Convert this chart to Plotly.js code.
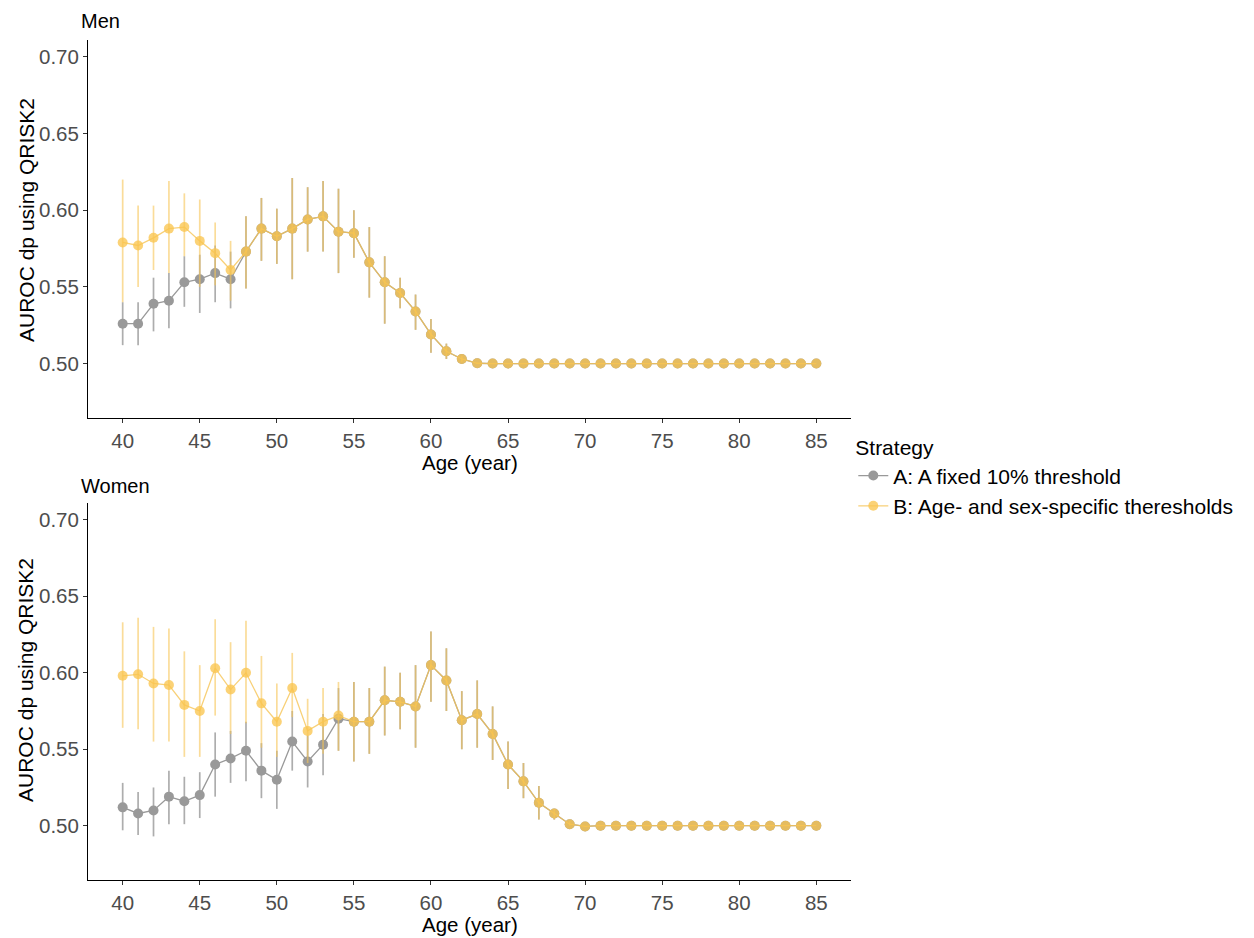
<!DOCTYPE html>
<html>
<head>
<meta charset="utf-8">
<script src="https://cdn.plot.ly/plotly-3.0.1.min.js"></script>
<style>body{margin:0;background:#fff;} #chart{width:1254px;height:938px;}</style>
</head>
<body>
<div id="chart"></div>
<script>
const ages = [40,41,42,43,44,45,46,47,48,49,50,51,52,53,54,55,56,57,58,59,60,61,62,63,64,65,66,67,68,69,70,71,72,73,74,75,76,77,78,79,80,81,82,83,84,85];
const xTicks = [40,45,50,55,60,65,70,75,80,85];
const yTicks = [0.50,0.55,0.60,0.65,0.70];
const seriesNames = ["A: A fixed 10% threshold", "B: Age- and sex-specific theresholds"];
const panelTitles = ["Men", "Women"];
const xTitle = "Age (year)";
const yTitle = "AUROC dp using QRISK2";
const legendTitle = "Strategy";

// Men, strategy A
const menA    = [0.526,0.526,0.539,0.541,0.553,0.555,0.559,0.555,0.573,0.588,0.583,0.588,0.594,0.596,0.586,0.585,0.566,0.553,0.546,0.534,0.519,0.508,0.503,0.5002,0.500,0.500,0.500,0.500,0.500,0.500,0.500,0.500,0.500,0.500,0.500,0.500,0.500,0.500,0.500,0.500,0.500,0.500,0.500,0.500,0.500,0.500];
const menA_lo = [0.512,0.512,0.521,0.523,0.537,0.533,0.540,0.536,0.549,0.567,0.565,0.555,0.573,0.573,0.559,0.569,0.543,0.526,0.536,0.522,0.507,0.503,0.501,0.4998,0.500,0.500,0.500,0.500,0.500,0.500,0.500,0.500,0.500,0.500,0.500,0.500,0.500,0.500,0.500,0.500,0.500,0.500,0.500,0.500,0.500,0.500];
const menA_hi = [0.540,0.540,0.556,0.559,0.570,0.571,0.577,0.573,0.596,0.608,0.601,0.621,0.615,0.619,0.614,0.600,0.589,0.570,0.556,0.545,0.529,0.513,0.505,0.5006,0.500,0.500,0.500,0.500,0.500,0.500,0.500,0.500,0.500,0.500,0.500,0.500,0.500,0.500,0.500,0.500,0.500,0.500,0.500,0.500,0.500,0.500];
// Men, strategy B
const menB    = [0.579,0.577,0.582,0.588,0.589,0.580,0.572,0.561,0.573,0.588,0.583,0.588,0.594,0.596,0.586,0.585,0.566,0.553,0.546,0.534,0.519,0.508,0.503,0.5002,0.500,0.500,0.500,0.500,0.500,0.500,0.500,0.500,0.500,0.500,0.500,0.500,0.500,0.500,0.500,0.500,0.500,0.500,0.500,0.500,0.500,0.500];
const menB_lo = [0.540,0.550,0.561,0.559,0.570,0.550,0.551,0.541,0.549,0.567,0.565,0.555,0.573,0.573,0.559,0.569,0.543,0.526,0.536,0.522,0.507,0.503,0.501,0.4998,0.500,0.500,0.500,0.500,0.500,0.500,0.500,0.500,0.500,0.500,0.500,0.500,0.500,0.500,0.500,0.500,0.500,0.500,0.500,0.500,0.500,0.500];
const menB_hi = [0.620,0.603,0.603,0.619,0.611,0.607,0.592,0.580,0.596,0.608,0.601,0.621,0.615,0.619,0.614,0.600,0.589,0.570,0.556,0.545,0.529,0.513,0.505,0.5006,0.500,0.500,0.500,0.500,0.500,0.500,0.500,0.500,0.500,0.500,0.500,0.500,0.500,0.500,0.500,0.500,0.500,0.500,0.500,0.500,0.500,0.500];
// Women, strategy A
const womenA    = [0.512,0.508,0.510,0.519,0.516,0.520,0.540,0.544,0.549,0.536,0.530,0.555,0.542,0.553,0.570,0.568,0.568,0.582,0.581,0.578,0.605,0.595,0.569,0.573,0.560,0.540,0.529,0.515,0.508,0.501,0.4995,0.500,0.500,0.500,0.500,0.500,0.500,0.500,0.500,0.500,0.500,0.500,0.500,0.500,0.500,0.500];
const womenA_lo = [0.497,0.494,0.493,0.501,0.501,0.505,0.519,0.528,0.529,0.518,0.511,0.536,0.525,0.533,0.549,0.542,0.547,0.559,0.563,0.551,0.581,0.575,0.550,0.551,0.543,0.524,0.518,0.504,0.504,0.500,0.4993,0.500,0.500,0.500,0.500,0.500,0.500,0.500,0.500,0.500,0.500,0.500,0.500,0.500,0.500,0.500];
const womenA_hi = [0.528,0.522,0.525,0.536,0.532,0.535,0.561,0.562,0.568,0.554,0.549,0.575,0.559,0.573,0.590,0.594,0.590,0.604,0.600,0.605,0.627,0.616,0.588,0.595,0.578,0.555,0.541,0.526,0.511,0.503,0.4997,0.500,0.500,0.500,0.500,0.500,0.500,0.500,0.500,0.500,0.500,0.500,0.500,0.500,0.500,0.500];
// Women, strategy B
const womenB    = [0.598,0.599,0.593,0.592,0.579,0.575,0.603,0.589,0.600,0.580,0.568,0.590,0.562,0.568,0.572,0.568,0.568,0.582,0.581,0.578,0.605,0.595,0.569,0.573,0.560,0.540,0.529,0.515,0.508,0.501,0.4995,0.500,0.500,0.500,0.500,0.500,0.500,0.500,0.500,0.500,0.500,0.500,0.500,0.500,0.500,0.500];
const womenB_lo = [0.564,0.563,0.555,0.555,0.545,0.545,0.572,0.560,0.567,0.551,0.545,0.571,0.541,0.547,0.549,0.542,0.547,0.559,0.563,0.551,0.581,0.575,0.550,0.551,0.543,0.524,0.518,0.504,0.504,0.500,0.4993,0.500,0.500,0.500,0.500,0.500,0.500,0.500,0.500,0.500,0.500,0.500,0.500,0.500,0.500,0.500];
const womenB_hi = [0.633,0.636,0.630,0.629,0.614,0.605,0.635,0.620,0.634,0.611,0.593,0.613,0.583,0.590,0.594,0.594,0.590,0.604,0.600,0.605,0.627,0.616,0.588,0.595,0.578,0.555,0.541,0.526,0.511,0.503,0.4997,0.500,0.500,0.500,0.500,0.500,0.500,0.500,0.500,0.500,0.500,0.500,0.500,0.500,0.500,0.500];

const grey = 'rgba(153,153,153,1)';
const greyBar = 'rgba(153,153,153,0.8)';
const yellow = 'rgba(250,197,80,0.78)';
const yellowBar = 'rgba(246,196,85,0.6)';

function mk(y, lo, hi, name, color, barColor, xa, ya, showlegend, lineColor) {
  return {
    x: ages, y: y, name: name, type: 'scatter', mode: 'lines+markers',
    xaxis: xa, yaxis: ya, showlegend: showlegend, legendgroup: name,
    line: {color: lineColor, width: 1.3},
    marker: {color: color, size: 10},
    error_y: {type: 'data', symmetric: false,
      array: hi.map((h, i) => h - y[i]),
      arrayminus: lo.map((l, i) => y[i] - l),
      color: barColor, thickness: 1.7, width: 0}
  };
}

const data = [
  mk(menA, menA_lo, menA_hi, seriesNames[0], grey, greyBar, 'x', 'y', true, 'rgba(153,153,153,1)'),
  mk(menB, menB_lo, menB_hi, seriesNames[1], yellow, yellowBar, 'x', 'y', true, 'rgba(246,196,85,0.8)'),
  mk(womenA, womenA_lo, womenA_hi, seriesNames[0], grey, greyBar, 'x2', 'y2', false, 'rgba(153,153,153,1)'),
  mk(womenB, womenB_lo, womenB_hi, seriesNames[1], yellow, yellowBar, 'x2', 'y2', false, 'rgba(246,196,85,0.8)')
];

const fontFam = 'Liberation Sans, Arial, sans-serif';
function xax(anchor) {
  return {anchor: anchor, range: [37.75, 87.25], tickvals: xTicks, ticks: 'outside', ticklen: 4, tickcolor: '#333',
    showline: true, linecolor: '#000', linewidth: 1, showgrid: false, zeroline: false,
    tickfont: {size: 20.5, color: '#4d4d4d', family: fontFam}};
}
function yax(anchor, dom) {
  return {anchor: anchor, domain: dom, range: [0.4645, 0.711], tickvals: yTicks, tickformat: '.2f', ticks: 'outside', ticklen: 4, tickcolor: '#333',
    showline: true, linecolor: '#000', linewidth: 1, showgrid: false, zeroline: false,
    tickfont: {size: 20.5, color: '#4d4d4d', family: fontFam}};
}
const tFont = {size: 21, color: '#000', family: fontFam};
const xtFont = {size: 20.5, color: '#000', family: fontFam};

const layout = {
  width: 1254, height: 938,
  margin: {l: 88, r: 403, t: 40, b: 58},
  paper_bgcolor: '#fff', plot_bgcolor: '#fff',
  font: {family: fontFam},
  xaxis: xax('y'),
  yaxis: yax('x', [0.55, 1.0]),
  xaxis2: xax('y2'),
  yaxis2: yax('x2', [0, 0.4488]),
  showlegend: true,
  legend: {x: 1.003, y: 0.538, xanchor: 'left', yanchor: 'top', itemwidth: 30, tracegroupgap: 0,
    font: {size: 21, color: '#000', family: fontFam},
    title: {text: legendTitle, font: {size: 21, color: '#000', family: fontFam}}},
  annotations: [
    {text: panelTitles[0], xref: 'paper', yref: 'paper', x: -0.012, y: 1.0, xanchor: 'left', yanchor: 'bottom', yshift: 6, showarrow: false, font: {size: 20, color: '#000', family: fontFam}},
    {text: panelTitles[1], xref: 'paper', yref: 'paper', x: -0.012, y: 0.4488, xanchor: 'left', yanchor: 'bottom', yshift: 4, showarrow: false, font: {size: 20, color: '#000', family: fontFam}},
    {text: xTitle, xref: 'paper', yref: 'paper', x: 0.5, y: 0.4976, xanchor: 'center', yanchor: 'middle', borderpad: 0, showarrow: false, font: xtFont},
    {text: xTitle, xref: 'paper', yref: 'paper', x: 0.5, y: -0.0524, xanchor: 'center', yanchor: 'middle', borderpad: 0, showarrow: false, font: xtFont},
    {text: yTitle, xref: 'paper', yref: 'paper', x: -0.0813, y: 0.7857, xanchor: 'center', yanchor: 'middle', textangle: -90, borderpad: 0, showarrow: false, font: tFont},
    {text: yTitle, xref: 'paper', yref: 'paper', x: -0.0813, y: 0.2381, xanchor: 'center', yanchor: 'middle', textangle: -90, borderpad: 0, showarrow: false, font: tFont}
  ]
};

Plotly.newPlot('chart', data, layout, {staticPlot: true});
</script>
</body>
</html>
